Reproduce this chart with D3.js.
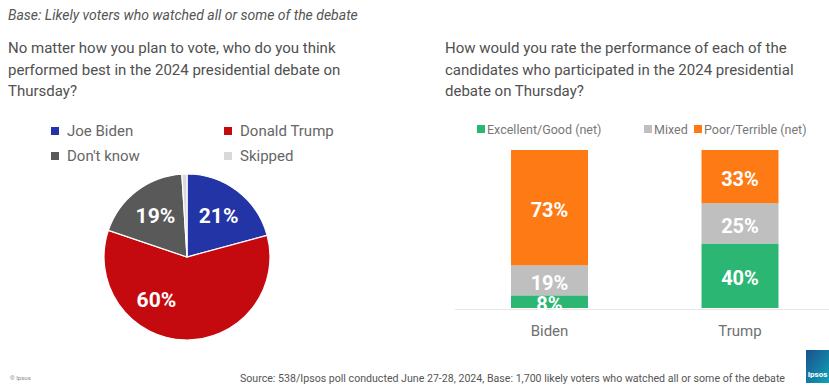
<!DOCTYPE html>
<html>
<head>
<meta charset="utf-8">
<script src="https://cdn.jsdelivr.net/npm/d3@7"></script>
<style>
  body { margin: 0; background: #fff; }
  svg { display: block; font-family: Roboto, "Noto Sans", sans-serif; }
</style>
</head>
<body>
<div id="chart"></div>
<script>
// pie: who performed best
const pieLabels = ["Joe Biden", "Donald Trump", "Don't know", "Skipped"];
const pieValues = [21, 60, 19, 1];
const pieColors = ["#2234a6", "#c50a0f", "#595959", "#d9d9d9"];

// stacked bars: performance rating
const candidates = ["Biden", "Trump"];
const ratingCats = ["Excellent/Good (net)", "Mixed", "Poor/Terrible (net)"];
const excellentGood = [8, 40];
const mixed = [19, 25];
const poorTerrible = [73, 33];
const ratingColors = ["#2bb673", "#bfbfbf", "#fd7a14"];

const width = 829, height = 387;
const svg = d3.select("#chart").append("svg").attr("width", width).attr("height", height);

const textColor = "#505050";

// header
svg.append("text").attr("x", 8).attr("y", 20)
    .attr("font-size", 14).attr("font-style", "italic").attr("fill", "#555")
    .text("Base: Likely voters who watched all or some of the debate");

const leftTitle = ["No matter how you plan to vote, who do you think",
    "performed best in the 2024 presidential debate on", "Thursday?"];
const rightTitle = ["How would you rate the performance of each of the",
    "candidates who participated in the 2024 presidential", "debate on Thursday?"];

svg.append("g").selectAll("text").data(leftTitle).join("text")
    .attr("x", 8).attr("y", (d, i) => 53 + i * 21.5)
    .attr("font-size", 15).attr("fill", textColor).text(d => d);
svg.append("g").selectAll("text").data(rightTitle).join("text")
    .attr("x", 445).attr("y", (d, i) => 53 + i * 21.5)
    .attr("font-size", 15).attr("fill", textColor).text(d => d);

// ---- pie ----
const pieLegend = svg.append("g");
pieLabels.forEach((lab, i) => {
    const gx = 55 + (i % 2) * 173, gy = 131 + Math.floor(i / 2) * 25;
    pieLegend.append("rect").attr("x", gx - 4).attr("y", gy - 4).attr("width", 8).attr("height", 8).attr("fill", pieColors[i]);
    pieLegend.append("text").attr("x", gx + 12).attr("y", gy).attr("dy", "0.36em")
        .attr("font-size", 15).attr("fill", "#666").text(lab);
});

const cx = 187, cy = 257, r = 83;
const pie = d3.pie().sort(null).value(d => d)(pieValues);
const arc = d3.arc().innerRadius(0).outerRadius(r);
const pg = svg.append("g").attr("transform", `translate(${cx},${cy})`);
pg.selectAll("path").data(pie).join("path")
    .attr("d", arc).attr("fill", (d, i) => pieColors[i])
    .attr("stroke", "#fff").attr("stroke-width", 1.2);

const labelFrac = [0.5, 0.66, 0.5, 0.5];
pg.selectAll("text").data(pie.slice(0, 3)).join("text")
    .attr("transform", (d, i) => {
        const a = d.startAngle + (d.endAngle - d.startAngle) * labelFrac[i];
        return `translate(${52 * Math.sin(a)},${-52 * Math.cos(a)})`;
    })
    .attr("text-anchor", "middle").attr("dy", "0.36em")
    .attr("font-size", 21).attr("font-weight", "bold").attr("fill", "#fff")
    .text(d => d.data + "%");

// ---- stacked bars ----
const rows = candidates.map((c, i) => ({
    name: c,
    [ratingCats[0]]: excellentGood[i],
    [ratingCats[1]]: mixed[i],
    [ratingCats[2]]: poorTerrible[i]
}));
const stack = d3.stack().keys(ratingCats).offset(d3.stackOffsetExpand)(rows);

const x = d3.scaleBand().domain(candidates).range([455, 834.5]).paddingInner(0.596).paddingOuter(0.294);
const y = d3.scaleLinear().domain([0, 1]).range([308, 150]);

svg.append("line").attr("x1", 455).attr("x2", 829).attr("y1", 309.5).attr("y2", 309.5)
    .attr("stroke", "#e6e6e6").attr("stroke-width", 1);

const bars = svg.append("g");
stack.forEach((s, k) => {
    const g = bars.append("g").attr("fill", ratingColors[k]);
    g.selectAll("rect").data(s).join("rect")
        .attr("x", d => x(d.data.name)).attr("width", x.bandwidth())
        .attr("y", d => y(d[1])).attr("height", d => y(d[0]) - y(d[1]));
});
stack.forEach((s, k) => {
    bars.append("g").selectAll("text").data(s).join("text")
        .attr("x", d => x(d.data.name) + x.bandwidth() / 2)
        .attr("y", d => (y(d[0]) + y(d[1])) / 2 + 2)
        .attr("dy", "0.36em").attr("text-anchor", "middle")
        .attr("font-size", 20).attr("font-weight", "bold").attr("fill", "#fff")
        .text(d => d.data[ratingCats[k]] + "%");
});

const xAxis = svg.append("g").attr("transform", "translate(0,309)")
    .call(d3.axisBottom(x).tickSize(0).tickPadding(16));
xAxis.select(".domain").remove();
xAxis.selectAll("text").attr("font-size", 15).attr("fill", "#707070")
    .attr("font-family", "Roboto, sans-serif");

// bar legend
const legX = [481, 648, 698];
const bl = svg.append("g");
ratingCats.forEach((c, i) => {
    bl.append("rect").attr("x", legX[i] - 4).attr("y", 125).attr("width", 8).attr("height", 8).attr("fill", ratingColors[i]);
    bl.append("text").attr("x", legX[i] + 6).attr("y", 129).attr("dy", "0.36em")
        .attr("font-size", 12.5).attr("fill", "#777").text(c);
});

// footer
svg.append("text").attr("x", 10).attr("y", 380).attr("font-size", 6).attr("fill", "#888").text("© Ipsos");
svg.append("text").attr("x", 240).attr("y", 382).attr("font-size", 10).attr("fill", "#555")
    .attr("textLength", 545).attr("lengthAdjust", "spacingAndGlyphs")
    .text("Source: 538/Ipsos poll conducted June 27-28, 2024, Base: 1,700 likely voters who watched all or some of the debate");

const logo = svg.append("g").attr("transform", "translate(806,350)");
const grad = svg.append("defs").append("linearGradient").attr("id", "lg").attr("x1", 0).attr("y1", 0).attr("x2", 1).attr("y2", 1);
grad.append("stop").attr("offset", "0%").attr("stop-color", "#1a4f8f");
grad.append("stop").attr("offset", "100%").attr("stop-color", "#0fa3b5");
logo.append("rect").attr("width", 23).attr("height", 33).attr("fill", "url(#lg)");
logo.append("text").attr("x", 11.5).attr("y", 27).attr("text-anchor", "middle")
    .attr("font-size", 8).attr("font-weight", "bold").attr("fill", "#fff").text("Ipsos");
</script>
</body>
</html>
